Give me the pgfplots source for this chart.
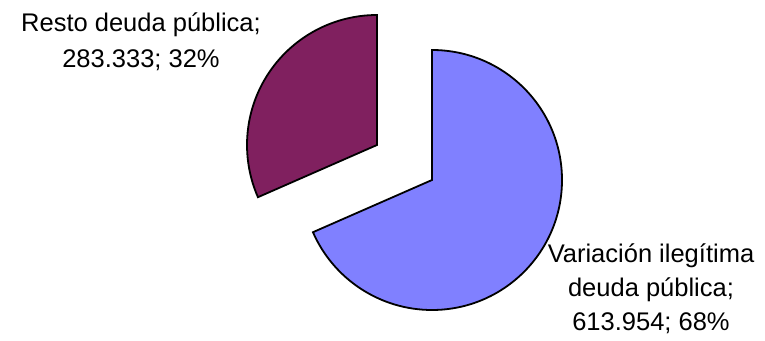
\documentclass[border=0pt]{standalone}
\usepackage{pgfplots}
\pgfplotsset{compat=1.18}
\usepackage{fontspec}
\setmainfont{Liberation Sans}
\definecolor{sliceblue}{HTML}{8080FF}
\definecolor{sliceplum}{HTML}{80205F}
\begin{document}
\begin{tikzpicture}
% values (thousands)
\pgfmathsetmacro{\vA}{613.954}% Variacion ilegitima deuda publica
\pgfmathsetmacro{\vB}{283.333}% Resto deuda publica
\pgfmathsetmacro{\fracA}{\vA/(\vA+\vB)}
\pgfmathsetmacro{\angA}{360*\fracA}
\pgfmathsetmacro{\endA}{90-\angA}
\pgfmathsetmacro{\endB}{450-\angA}
\begin{axis}[
  x=1pt, y=1pt,
  xmin=0, xmax=765, ymin=0, ymax=340,
  hide axis, clip=false,
]
\path (rel axis cs:0,0) rectangle (rel axis cs:1,1);
% blue slice
\draw[fill=sliceblue, line width=1.8pt, line join=miter]
  (axis cs:432,160) -- ++(90:130pt)
  arc[start angle=90, end angle=\endA, radius=130pt] -- cycle;
% plum slice (exploded)
\draw[fill=sliceplum, line width=1.8pt, line join=miter]
  (axis cs:377,195) -- ++(90:130pt)
  arc[start angle=90, end angle=\endB, radius=130pt] -- cycle;
% labels
\node[anchor=base, align=center, inner sep=0pt, font=\fontsize{25.5}{36}\selectfont]
  at (axis cs:141,272) {Resto deuda pública;\\283.333; 32\%};
\node[anchor=base, align=center, inner sep=0pt, font=\fontsize{25.5}{34}\selectfont]
  at (axis cs:651,10) {Variación ilegítima\\deuda pública;\\613.954; 68\%};
\end{axis}
\end{tikzpicture}
\end{document}
